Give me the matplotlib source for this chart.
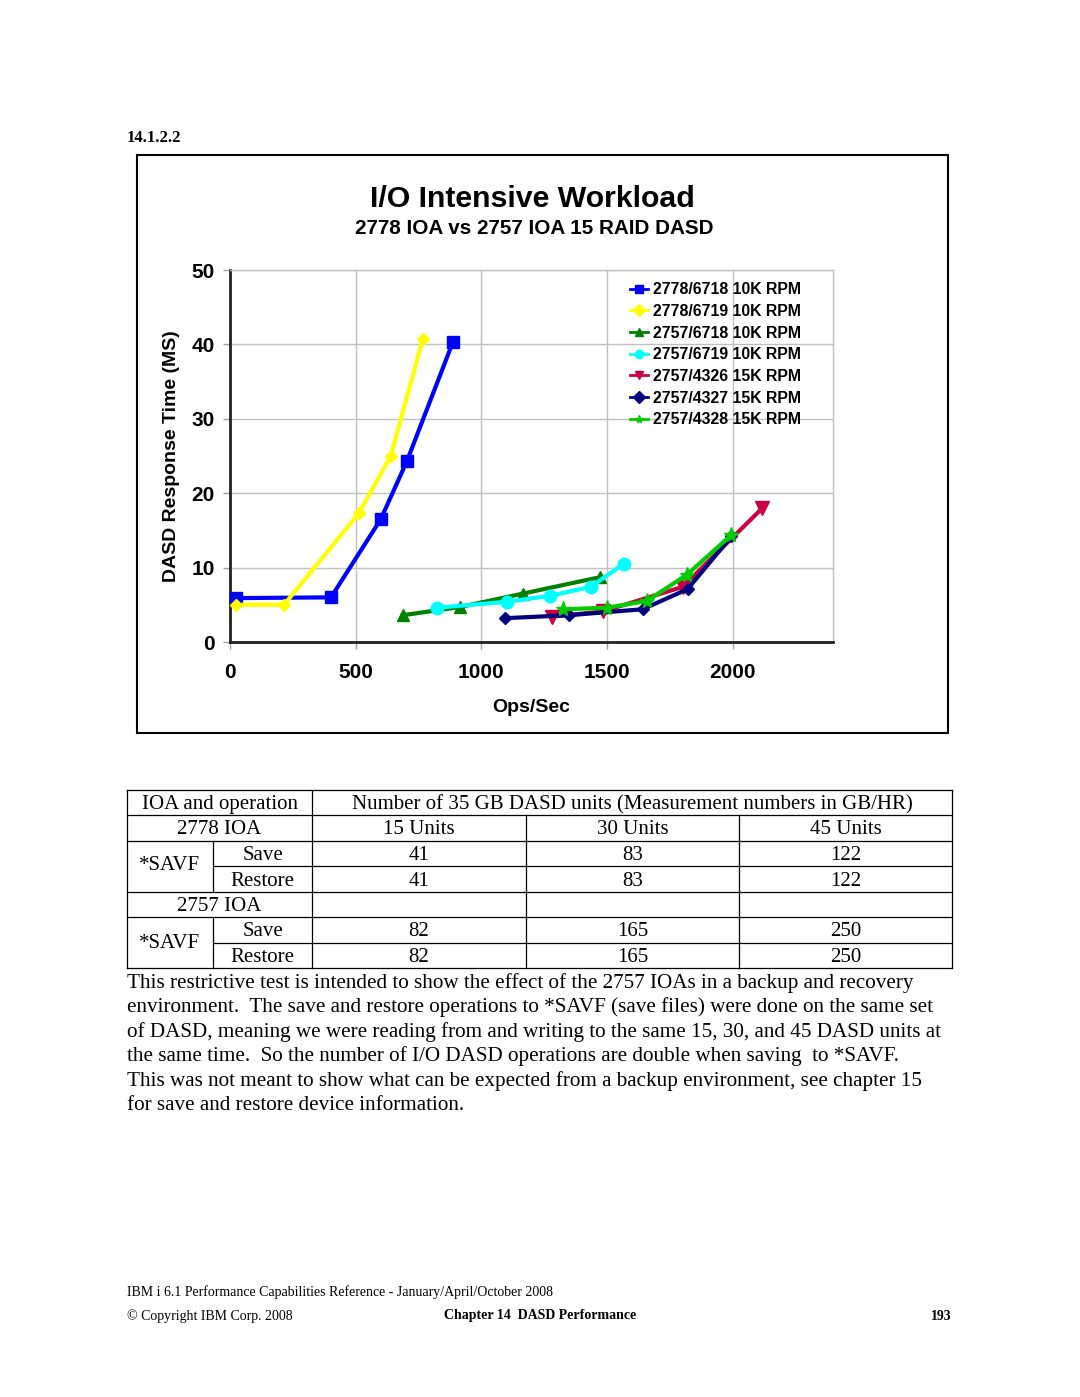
import matplotlib
matplotlib.use("Agg")
import matplotlib.pyplot as plt
from matplotlib.patches import Rectangle
from matplotlib.lines import Line2D

# chart data (ops/sec, response time ms)
series_names = ["2778/6718 10K RPM", "2778/6719 10K RPM", "2757/6718 10K RPM",
                "2757/6719 10K RPM", "2757/4326 15K RPM", "2757/4327 15K RPM",
                "2757/4328 15K RPM"]
x_2778_6718 = [24, 402, 600, 704, 887]
y_2778_6718 = [5.9, 6.0, 16.5, 24.3, 40.3]
x_2778_6719 = [24, 215, 513, 640, 767]
y_2778_6719 = [5.0, 5.0, 17.3, 25.0, 40.7]
x_2757_6718 = [688, 915, 1165, 1471]
y_2757_6718 = [3.6, 4.7, 6.5, 8.7]
x_2757_6719 = [823, 1101, 1272, 1435, 1567]
y_2757_6719 = [4.6, 5.4, 6.2, 7.4, 10.5]
x_2757_4326 = [1280, 1483, 1801, 2119]
y_2757_4326 = [3.4, 4.1, 7.4, 18.0]
x_2757_4327 = [1093, 1348, 1642, 1821, 1996]
y_2757_4327 = [3.2, 3.6, 4.4, 7.1, 14.2]
x_2757_4328 = [1324, 1499, 1658, 1817, 1996]
y_2757_4328 = [4.4, 4.6, 5.5, 9.0, 14.4]

xs = [x_2778_6718, x_2778_6719, x_2757_6718, x_2757_6719, x_2757_4326, x_2757_4327, x_2757_4328]
ys = [y_2778_6718, y_2778_6719, y_2757_6718, y_2757_6719, y_2757_4326, y_2757_4327, y_2757_4328]
colors = ["#0000FF", "#FFFF00", "#007F00", "#00FFFF", "#CC0044", "#000080", "#00CC00"]
markers = ["s", "D", "^", "o", "v", "D", "*"]
msizes = [8, 6, 8, 9, 10, 6, 11]

x_ticks = [0, 500, 1000, 1500, 2000]
y_ticks = [0, 10, 20, 30, 40, 50]

# table data
table_header = ["IOA and operation", "Number of 35 GB DASD units (Measurement numbers in GB/HR)"]
unit_labels = ["15 Units", "30 Units", "45 Units"]
ioa_names = ["2778 IOA", "2757 IOA"]
ops = ["Save", "Restore"]
vals_2778 = [[41, 83, 122], [41, 83, 122]]
vals_2757 = [[82, 165, 250], [82, 165, 250]]

paragraph = [
    "This restrictive test is intended to show the effect of the 2757 IOAs in a backup and recovery",
    "environment.  The save and restore operations to *SAVF (save files) were done on the same set",
    "of DASD, meaning we were reading from and writing to the same 15, 30, and 45 DASD units at",
    "the same time.  So the number of I/O DASD operations are double when saving  to *SAVF.",
    "This was not meant to show what can be expected from a backup environment, see chapter 15",
    "for save and restore device information.",
]

W, H = 1080, 1397
fig = plt.figure(figsize=(W / 100, H / 100), dpi=100)


def fx(px):
    return px / W


def fy(py):
    return 1 - py / H


sans = "Liberation Sans"
serif = "Liberation Serif"

# section number
fig.text(fx(127), fy(138), "14.1.2.2", family=serif, weight="bold", fontsize=12, va="center")

# chart frame
fig.patches.append(Rectangle((fx(137), fy(733)), fx(948) - fx(137), fy(155) - fy(733),
                             transform=fig.transFigure, fill=False, ec="black", lw=1.5))

fig.text(fx(532), fy(199), "I/O Intensive Workload", family=sans, weight="bold",
         fontsize=21.8, ha="center", va="center")
fig.text(fx(534), fy(228), "2778 IOA vs 2757 IOA 15 RAID DASD", family=sans, weight="bold",
         fontsize=14.9, ha="center", va="center")

ax = fig.add_axes([fx(230), fy(642), fx(833) - fx(230), fy(270) - fy(642)])
for xv, yv, c, m, ms, name in zip(xs, ys, colors, markers, msizes, series_names):
    ax.plot(xv, yv, color=c, marker=m, ms=ms, lw=3, label=name, clip_on=False, zorder=3)

ax.set_xlim(0, 2400)
ax.set_ylim(0, 50)
ax.set_xticks(x_ticks)
ax.set_yticks(y_ticks)
ax.grid(True, color="#C0C0C0", lw=1)
ax.set_axisbelow(True)
for s in ["top", "right"]:
    ax.spines[s].set_color("#C0C0C0")
    ax.spines[s].set_linewidth(1)
ax.spines["left"].set_color("#222222")
ax.spines["left"].set_linewidth(2)
ax.spines["bottom"].set_color("#222222")
ax.spines["bottom"].set_linewidth(2)
ax.tick_params(axis="both", color="#A0A0A0", length=5, width=1, labelsize=15)
ax.tick_params(axis="x", pad=10)
ax.tick_params(axis="y", pad=6)
for lab in ax.get_xticklabels() + ax.get_yticklabels():
    lab.set_fontfamily(sans)
    lab.set_fontweight("bold")

ax.set_xlabel("Ops/Sec", family=sans, weight="bold", fontsize=14, labelpad=12)
ax.set_ylabel("DASD Response Time (MS)", family=sans, weight="bold", fontsize=14, labelpad=8)

leg = ax.legend(loc="upper left", bbox_to_anchor=(0.653, 0.984), frameon=False,
                handlelength=1.1, handletextpad=0.35, labelspacing=0.42, borderaxespad=0,
                prop={"family": sans, "weight": "bold", "size": 11.4})
for h in leg.legend_handles:
    h.set_markersize(6)
    h.set_linewidth(2)

# table
tx = [127, 213, 312, 526, 739, 952]
ty = [790, 815, 841, 866, 892, 917, 943, 968]
lc = "black"


def hline(y, x0, x1):
    fig.add_artist(Line2D([fx(x0), fx(x1)], [fy(y), fy(y)], color=lc, lw=0.9))


def vline(x, y0, y1):
    fig.add_artist(Line2D([fx(x), fx(x)], [fy(y0), fy(y1)], color=lc, lw=0.9))


for i, y in enumerate(ty):
    if i in (3, 6):
        hline(y, tx[1], tx[-1])
    else:
        hline(y, tx[0], tx[-1])
vline(tx[0], ty[0], ty[-1])
vline(tx[2], ty[0], ty[-1])
vline(tx[-1], ty[0], ty[-1])
vline(tx[1], ty[2], ty[4])
vline(tx[1], ty[5], ty[7])
for x in tx[3:5]:
    vline(x, ty[1], ty[-1])

tfs = 15


def cell(xc, yc, s):
    fig.text(fx(xc), fy(yc), s, family=serif, fontsize=tfs, ha="center", va="center")


def mid(a, b):
    return (a + b) / 2


cell(mid(tx[0], tx[2]), mid(ty[0], ty[1]) + 2, table_header[0])
cell(mid(tx[2], tx[5]), mid(ty[0], ty[1]) + 2, table_header[1])
for k, (ioa, vals) in enumerate([(ioa_names[0], vals_2778), (ioa_names[1], vals_2757)]):
    r = 1 + 3 * k
    cell(mid(tx[0], tx[2]), mid(ty[r], ty[r + 1]) + 2, ioa)
    if k == 0:
        for j, u in enumerate(unit_labels):
            cell(mid(tx[2 + j], tx[3 + j]), mid(ty[r], ty[r + 1]) + 2, u)
    cell(mid(tx[0], tx[1]), ty[r + 2], "*SAVF")
    for i, op in enumerate(ops):
        rr = r + 1 + i
        cell(mid(tx[1], tx[2]), mid(ty[rr], ty[rr + 1]) + 2, op)
        for j, v in enumerate(vals[i]):
            cell(mid(tx[2 + j], tx[3 + j]), mid(ty[rr], ty[rr + 1]) + 2, str(v))

for i, line in enumerate(paragraph):
    fig.text(fx(127), fy(983 + i * 24.5), line, family=serif, fontsize=15.2, va="center")

# footer
fig.text(fx(127), fy(1292), "IBM i 6.1 Performance Capabilities Reference - January/April/October 2008",
         family=serif, fontsize=10, va="center")
fig.text(fx(127), fy(1316), "\u00a9 Copyright IBM Corp. 2008", family=serif, fontsize=10, va="center")
fig.text(fx(540), fy(1316), "Chapter 14  DASD Performance", family=serif, weight="bold",
         fontsize=10, ha="center", va="center")
fig.text(fx(952), fy(1316), "193", family=serif, weight="bold", fontsize=10, ha="right", va="center")

fig.savefig("out.png", dpi=100)
